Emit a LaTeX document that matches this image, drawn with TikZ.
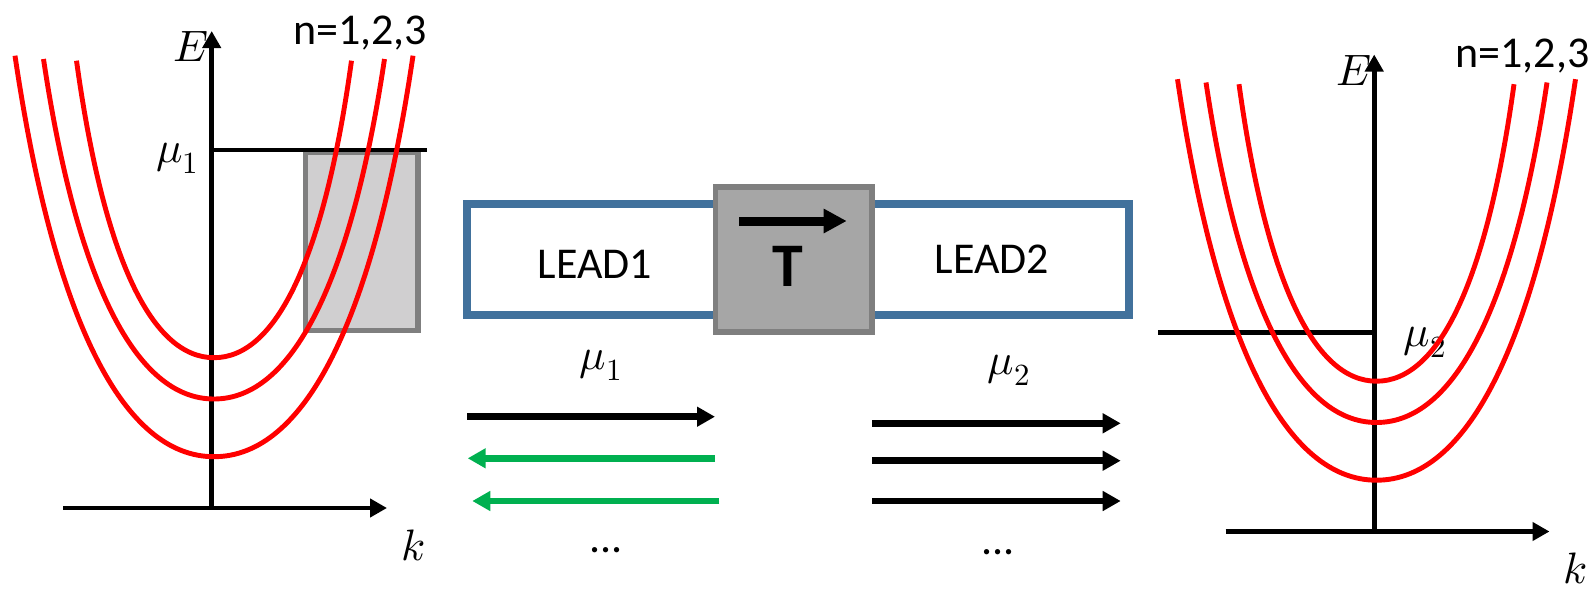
\documentclass[tikz,border=0pt]{standalone}
\usepackage{fontspec}
\usepackage{unicode-math}
\setmainfont{Carlito}
\setmathfont{Latin Modern Math}
\usetikzlibrary{arrows.meta}

\definecolor{leadblue}{RGB}{65,113,156}
\definecolor{bandred}{RGB}{255,0,0}
\definecolor{edgegray}{RGB}{127,127,127}
\definecolor{winfill}{RGB}{208,207,208}
\definecolor{tfill}{RGB}{166,166,166}
\definecolor{backgreen}{RGB}{0,176,80}

% one parabola-like subband: centre x, bottom y, half width, height
\newcommand\bandcurve[4]{%
  \draw[band] ({#1-#3},{#2-#4})
    .. controls ({#1-0.8*#3},{#2-0.33*#4}) and ({#1-0.45*#3},#2) .. (#1,#2)
    .. controls ({#1+0.45*#3},#2) and ({#1+0.8*#3},{#2-0.33*#4}) .. ({#1+#3},{#2-#4});}

% axes, labels and the three subbands of one lead
\newcommand\dispersionpanel{%
  \coordinate (kstart) at (63,508);
  \coordinate (kend) at (387,508);
  \coordinate (origin) at (211.7,508);
  \coordinate (eend) at (211.7,31);
  \draw[axis] (kstart) -- (kend);
  \draw[axis] (origin) -- (eend);
  \node[mathlbl] (E) at (191,47) {$E$};
  \node[mathlbl] (k) at (413,545) {$k$};
  \node[txt, anchor=base] (n) at (360,44) {n=1,2,3};
  \bandcurve{214}{357.7}{137.5}{297}
  \bandcurve{214}{399}{170.5}{340}
  \bandcurve{214}{456.7}{199}{401}}

\begin{document}
\begin{tikzpicture}[x=1pt,y=-1pt,
  axis/.style={line width=4.7pt,-{Triangle[length=17pt,width=18pt]}},
  band/.style={draw=bandred,line width=4.9pt},
  level/.style={line width=4.9pt},
  mode/.style={line width=6.5pt,-{Triangle[length=18pt,width=19pt]}},
  backmode/.style={mode,draw=backgreen,fill=backgreen},
  window/.style={draw=edgegray,fill=winfill,line width=5.5pt,inner sep=0pt},
  txt/.style={font=\fontsize{44}{48}\selectfont,inner sep=0pt},
  mathlbl/.style={font=\fontsize{44}{48}\selectfont,inner sep=0pt}]
\useasboundingbox (0,0) rectangle (1596,589);

% ---- lead 1 dispersion ----
\begin{scope}[name prefix=L-]
  \node[window,minimum width=112.5pt,minimum height=178.3pt] (occ) at (361.75,241.15) {};
  \coordinate (mustart) at (211.7,150);
  \coordinate (muend) at (427,150);
  \draw[level] (mustart) -- (muend);
  \node[mathlbl] (mu) at (177.5,158) {$\mu_1$};
  \dispersionpanel
\end{scope}

% ---- lead 2 dispersion ----
\begin{scope}[shift={(1162.5,23.5)},name prefix=R-]
  \coordinate (mustart) at (-4.5,309.2);
  \coordinate (muend) at (211.7,309.2);
  \draw[level] (mustart) -- (muend);
  \node[mathlbl] (mu) at (262.5,318.5) {$\mu_2$};
  \dispersionpanel
\end{scope}

% ---- leads and scattering region ----
\node[draw=leadblue,fill=white,line width=8pt,minimum width=662pt,minimum height=110.7pt] (wire) at (798,259.35) {};
\node[txt] (lead1) at (595,264) {LEAD1};
\node[txt] (lead2) at (992,259) {LEAD2};
\node[draw=edgegray,fill=tfill,line width=5.5pt,minimum width=156.5pt,minimum height=144.8pt] (scat) at (793.75,259.4) {};
\coordinate (tl) at (739,221);
\coordinate (tr) at (846.7,221);
\draw[line width=9pt,-{Triangle[length=23pt,width=23pt]}] (tl) -- (tr);
\node[font=\fontsize{62}{66}\selectfont\bfseries,inner sep=0pt] (T) at (788,266) {T};

% ---- channels in lead 1 ----
\node[mathlbl] (mu1) at (601,365) {$\mu_1$};
\coordinate (a1s) at (467.3,416.7); \coordinate (a1e) at (715,416.7);
\coordinate (a2s) at (715,458.3);   \coordinate (a2e) at (467.7,458.3);
\coordinate (a3s) at (719.3,501);   \coordinate (a3e) at (472.3,501);
\draw[mode] (a1s) -- (a1e);
\draw[backmode] (a2s) -- (a2e);
\draw[backmode] (a3s) -- (a3e);
\node[txt] (dots1) at (606,550) {...};

% ---- channels in lead 2 ----
\node[mathlbl] (mu2) at (1009,370) {$\mu_2$};
\coordinate (b1s) at (872.3,423.3); \coordinate (b1e) at (1120.7,423.3);
\coordinate (b2s) at (872.3,460.7); \coordinate (b2e) at (1120.7,460.7);
\coordinate (b3s) at (872.3,501);   \coordinate (b3e) at (1120.7,501);
\draw[mode] (b1s) -- (b1e);
\draw[mode] (b2s) -- (b2e);
\draw[mode] (b3s) -- (b3e);
\node[txt] (dots2) at (998,551.7) {...};
\end{tikzpicture}
\end{document}
